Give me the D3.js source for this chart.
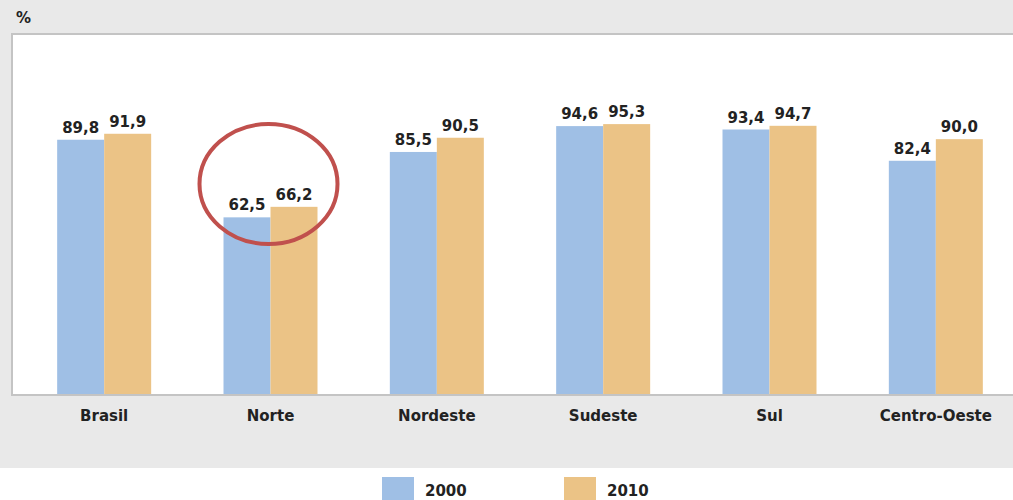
<!DOCTYPE html>
<html>
<head>
<meta charset="utf-8">
<script src="https://cdn.jsdelivr.net/npm/d3@7"></script>
<style>
  body { margin: 0; background: #fff; }
  svg { display: block; font-family: "DejaVu Sans", sans-serif; }
</style>
</head>
<body>
<div class="data"></div>
<script>
const categories = ["Brasil", "Norte", "Nordeste", "Sudeste", "Sul", "Centro-Oeste"];
const years = ["2000", "2010"];
const values2000 = [89.8, 62.5, 85.5, 94.6, 93.4, 82.4];
const values2010 = [91.9, 66.2, 90.5, 95.3, 94.7, 90.0];
const colors = ["#9fbfe5", "#ebc386"];

const w = 1013;
const h = 500;
const plot = { left: 12, top: 34, right: 1030, bottom: 395 };
const font = "DejaVu Sans, sans-serif";

const svg = d3.select(".data").append("svg").attr("width", w).attr("height", h);

// grey frame behind the chart
svg.append("rect").attr("x", 0).attr("y", 0).attr("width", w).attr("height", 468).attr("fill", "#e9e9e9");
svg.append("rect")
  .attr("x", plot.left).attr("y", plot.top)
  .attr("width", plot.right - plot.left).attr("height", plot.bottom - plot.top)
  .attr("fill", "#fff").attr("stroke", "#c4c4c4").attr("stroke-width", 2);

const xScale = d3.scaleBand().domain(categories).range([21, 1019]).paddingInner(0).paddingOuter(0);
const xSub = d3.scaleBand().domain(years).range([0, 94]);
const yScale = d3.scaleLinear().domain([0, 127]).range([plot.bottom, plot.top]);

const data = categories.map((c, i) => ({ cat: c, vals: [values2000[i], values2010[i]] }));
const fmt = (v) => v.toFixed(1).replace(".", ",");

const groups = svg.selectAll("g.grp").data(data).enter().append("g")
  .attr("class", "grp")
  .attr("transform", (d) => "translate(" + (xScale(d.cat) + xScale.bandwidth() / 2 - 47) + ",0)");

groups.selectAll("rect").data((d) => d.vals.map((v, j) => ({ v, y: years[j], j }))).enter()
  .append("rect")
  .attr("x", (d) => xSub(d.y))
  .attr("y", (d) => yScale(d.v))
  .attr("width", xSub.bandwidth())
  .attr("height", (d) => plot.bottom - yScale(d.v))
  .attr("fill", (d) => colors[d.j]);

groups.selectAll("text").data((d) => d.vals.map((v, j) => ({ v, y: years[j] }))).enter()
  .append("text")
  .attr("x", (d) => xSub(d.y) + xSub.bandwidth() / 2)
  .attr("y", (d) => yScale(d.v) - 7)
  .attr("text-anchor", "middle")
  .attr("font-size", 15).attr("font-weight", "bold").attr("fill", "#222")
  .text((d) => fmt(d.v));

// x axis
const xAxis = d3.axisBottom(xScale).tickSize(0).tickPadding(15);
const gx = svg.append("g").attr("transform", "translate(0," + plot.bottom + ")").call(xAxis);
gx.select(".domain").remove();
gx.selectAll("text").attr("font-size", 15).attr("font-weight", "bold").attr("fill", "#222")
  .attr("font-family", font);
svg.append("line").attr("x1", plot.left).attr("x2", w).attr("y1", plot.bottom).attr("y2", plot.bottom)
  .attr("stroke", "#c4c4c4").attr("stroke-width", 2);

// unit label
svg.append("text").attr("x", 16).attr("y", 23).attr("font-size", 15).attr("font-weight", "bold")
  .attr("fill", "#222").text("%");

// highlight ellipse
const nx = xScale("Norte") + xScale.bandwidth() / 2;
svg.append("ellipse").attr("cx", nx - 2).attr("cy", 184).attr("rx", 69).attr("ry", 60)
  .attr("fill", "none").attr("stroke", "#c0504d").attr("stroke-width", 4);

// legend
const legendX = [382, 564];
years.forEach((y, i) => {
  svg.append("rect").attr("x", legendX[i]).attr("y", 477).attr("width", 32).attr("height", 25).attr("fill", colors[i]);
  svg.append("text").attr("x", legendX[i] + 43).attr("y", 496).attr("font-size", 15).attr("font-weight", "bold")
    .attr("fill", "#222").text(y);
});
</script>
</body>
</html>
